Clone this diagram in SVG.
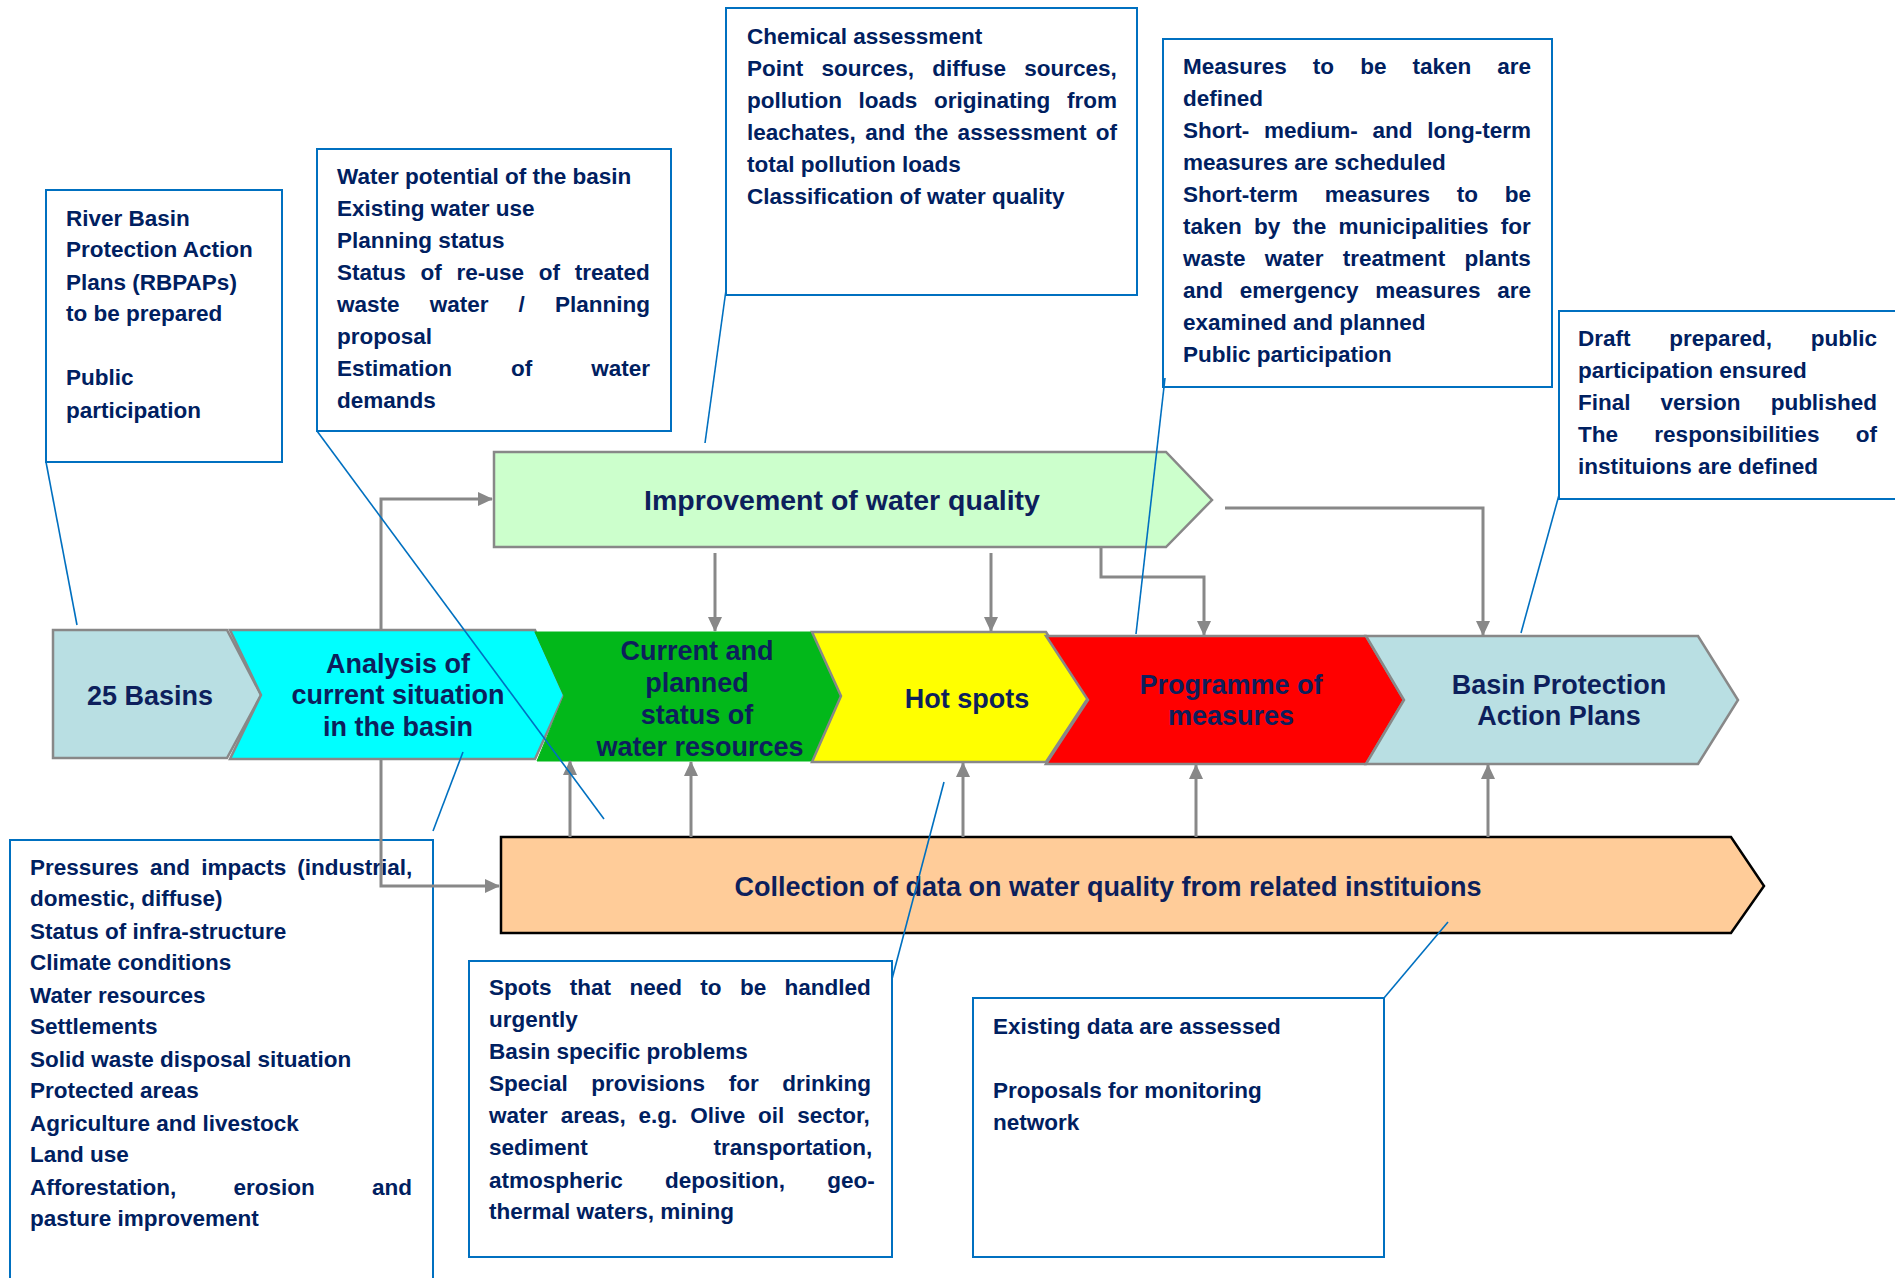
<svg xmlns="http://www.w3.org/2000/svg" width="1895" height="1278" viewBox="0 0 1895 1278">
<style>
.box{fill:#fff;stroke:#0070c0;stroke-width:2}
.bt{font-family:"Liberation Sans",Arial,sans-serif;font-weight:bold;font-size:22.5px;fill:#002060}
.ct{font-family:"Liberation Sans",Arial,sans-serif;font-weight:bold;font-size:27px;fill:#0d1f5c;text-anchor:middle}
.chev{stroke:#888;stroke-width:2.5}
.conn{fill:none;stroke:#888;stroke-width:3}
.call{fill:none;stroke:#0070c0;stroke-width:1.6}
</style>
<defs>
<marker id="ah" markerUnits="userSpaceOnUse" markerWidth="16" markerHeight="14" refX="14" refY="7" orient="auto">
<path d="M0,0 L15,7 L0,14 z" fill="#888"/>
</marker>
</defs>

<g id="box-rbpap">
<rect class="box" x="46" y="190" width="236" height="272"/>
<text class="bt"><tspan x="66" y="226">River Basin</tspan><tspan x="66" y="257">Protection Action</tspan><tspan x="66" y="290">Plans (RBPAPs)</tspan><tspan x="66" y="321">to be prepared</tspan><tspan x="66" y="385">Public</tspan><tspan x="66" y="418">participation</tspan></text>
</g>

<g id="box-water-potential">
<rect class="box" x="317" y="149" width="354" height="282"/>
<text class="bt" x="337" y="184">Water potential of the basin</text>
<text class="bt" x="337" y="216">Existing water use</text>
<text class="bt" x="337" y="248">Planning status</text>
<text class="bt" x="337" y="280" style="word-spacing:8.5px">Status of re-use of treated</text>
<text class="bt" x="337" y="312" style="word-spacing:23.9px">waste water / Planning</text>
<text class="bt" x="337" y="344">proposal</text>
<text class="bt" x="337" y="376" style="word-spacing:52.7px">Estimation of water</text>
<text class="bt" x="337" y="408">demands</text>
</g>

<g id="box-chemical">
<rect class="box" x="726" y="8" width="411" height="287"/>
<text class="bt" x="747" y="44">Chemical assessment</text>
<text class="bt" x="747" y="76" style="word-spacing:12px">Point sources, diffuse sources,</text>
<text class="bt" x="747" y="108" style="word-spacing:10.4px">pollution loads originating from</text>
<text class="bt" x="747" y="140" style="word-spacing:3.1px">leachates, and the assessment of</text>
<text class="bt" x="747" y="172">total pollution loads</text>
<text class="bt" x="747" y="204">Classification of water quality</text>
</g>

<g id="box-measures">
<rect class="box" x="1163" y="39" width="389" height="348"/>
<text class="bt" x="1183" y="74" style="word-spacing:19.8px">Measures to be taken are</text>
<text class="bt" x="1183" y="106">defined</text>
<text class="bt" x="1183" y="138" style="word-spacing:8.5px">Short- medium- and long-term</text>
<text class="bt" x="1183" y="170">measures are scheduled</text>
<text class="bt" x="1183" y="202" style="word-spacing:20.6px">Short-term measures to be</text>
<text class="bt" x="1183" y="234" style="word-spacing:6px">taken by the municipalities for</text>
<text class="bt" x="1183" y="266" style="word-spacing:13px">waste water treatment plants</text>
<text class="bt" x="1183" y="298" style="word-spacing:10.5px">and emergency measures are</text>
<text class="bt" x="1183" y="330">examined and planned</text>
<text class="bt" x="1183" y="362">Public participation</text>
</g>

<g id="box-draft">
<rect class="box" x="1559" y="311" width="345" height="188"/>
<text class="bt" x="1578" y="346" style="word-spacing:32.6px">Draft prepared, public</text>
<text class="bt" x="1578" y="378">participation ensured</text>
<text class="bt" x="1578" y="410" style="word-spacing:23.8px">Final version published</text>
<text class="bt" x="1578" y="442" style="word-spacing:30.1px">The responsibilities of</text>
<text class="bt" x="1578" y="474">instituions are defined</text>
</g>

<g id="box-pressures">
<rect class="box" x="10" y="840" width="423" height="460" fill="none"/>
<text class="bt" x="30" y="875" style="word-spacing:4.9px">Pressures and impacts (industrial,</text>
<text class="bt" x="30" y="906">domestic, diffuse)</text>
<text class="bt" x="30" y="939">Status of infra-structure</text>
<text class="bt" x="30" y="970">Climate conditions</text>
<text class="bt" x="30" y="1003">Water resources</text>
<text class="bt" x="30" y="1034">Settlements</text>
<text class="bt" x="30" y="1067">Solid waste disposal situation</text>
<text class="bt" x="30" y="1098">Protected areas</text>
<text class="bt" x="30" y="1131">Agriculture and livestock</text>
<text class="bt" x="30" y="1162">Land use</text>
<text class="bt" x="30" y="1195" style="word-spacing:51px">Afforestation, erosion and</text>
<text class="bt" x="30" y="1226">pasture improvement</text>
</g>

<g id="box-spots">
<rect class="box" x="469" y="961" width="423" height="296"/>
<text class="bt" x="489" y="995" style="word-spacing:12.1px">Spots that need to be handled</text>
<text class="bt" x="489" y="1027">urgently</text>
<text class="bt" x="489" y="1059">Basin specific problems</text>
<text class="bt" x="489" y="1091" style="word-spacing:17.3px">Special provisions for drinking</text>
<text class="bt" x="489" y="1123" style="word-spacing:6.6px">water areas, e.g. Olive oil sector,</text>
<text class="bt" x="489" y="1155" style="word-spacing:119.5px">sediment transportation,</text>
<text class="bt" x="489" y="1188" style="word-spacing:36px">atmospheric deposition, geo-</text>
<text class="bt" x="489" y="1219">thermal waters, mining</text>
</g>

<g id="box-existing">
<rect class="box" x="973" y="998" width="411" height="259"/>
<text class="bt" x="993" y="1034">Existing data are assessed</text>
<text class="bt" x="993" y="1098">Proposals for monitoring</text>
<text class="bt" x="993" y="1130">network</text>
</g>

<g id="node-basins">
<polygon class="chev" fill="#b9dfe3" points="53,630 227,630 261,695 227,758 53,758"/>
<text class="ct" x="150" y="705">25 Basins</text>
</g>
<g id="node-analysis">
<polygon class="chev" fill="#00ffff" points="230,630 535,630 564,695 535,759 230,759 261,695"/>
<text class="ct"><tspan x="398" y="673">Analysis of</tspan><tspan x="398" y="704">current situation</tspan><tspan x="398" y="736">in the basin</tspan></text>
</g>
<g id="node-current">
<polygon fill="#02b81a" stroke="#02b81a" stroke-width="1" points="535,632 812,632 841,696 812,761 537,761 564,696"/>
<text class="ct"><tspan x="697" y="660">Current and</tspan><tspan x="697" y="692">planned</tspan><tspan x="697" y="724">status of</tspan><tspan x="700" y="756">water resources</tspan></text>
</g>
<g id="node-hotspots">
<polygon class="chev" fill="#ffff00" points="812,632 1046,632 1088,698 1046,762 812,762 841,696"/>
<text class="ct" x="967" y="708">Hot spots</text>
</g>
<g id="node-programme">
<polygon class="chev" fill="#ff0000" points="1046,636 1366,636 1404,700 1366,764 1046,764 1088,700"/>
<text class="ct"><tspan x="1231" y="694">Programme of</tspan><tspan x="1231" y="725">measures</tspan></text>
</g>
<g id="node-bpap">
<polygon class="chev" fill="#b9dfe3" points="1366,636 1698,636 1738,700 1698,764 1366,764 1404,700"/>
<text class="ct"><tspan x="1559" y="694">Basin Protection</tspan><tspan x="1559" y="725">Action Plans</tspan></text>
</g>
<g id="node-improvement">
<polygon class="chev" fill="#ccffcc" points="494,452 1166,452 1212,500 1166,547 494,547"/>
<text class="ct" x="842" y="510" style="font-size:28.5px">Improvement of water quality</text>
</g>
<g id="node-collection">
<polygon fill="#ffcc99" stroke="#000" stroke-width="2.5" points="501,837 1731,837 1764,886 1731,933 501,933"/>
<text class="ct" x="1108" y="896">Collection of data on water quality from related instituions</text>
</g>

<g id="connectors">
<path class="conn" d="M381,630 V499 H492" marker-end="url(#ah)"/>
<path class="conn" d="M381,759 V886 H499" marker-end="url(#ah)"/>
<path class="conn" d="M715,553 V631" marker-end="url(#ah)"/>
<path class="conn" d="M991,553 V631" marker-end="url(#ah)"/>
<path class="conn" d="M1101,547 V577 H1204 V635" marker-end="url(#ah)"/>
<path class="conn" d="M1225,508 H1483 V635" marker-end="url(#ah)"/>
<path class="conn" d="M570,837 V761" marker-end="url(#ah)"/>
<path class="conn" d="M691,837 V762" marker-end="url(#ah)"/>
<path class="conn" d="M963,837 V763" marker-end="url(#ah)"/>
<path class="conn" d="M1196,837 V765" marker-end="url(#ah)"/>
<path class="conn" d="M1488,837 V765" marker-end="url(#ah)"/>
</g>

<g id="callouts">
<line class="call" x1="46" y1="462" x2="77" y2="625"/>
<line class="call" x1="317" y1="431" x2="604" y2="819"/>
<line class="call" x1="726" y1="290" x2="705" y2="443"/>
<line class="call" x1="1165" y1="378" x2="1136" y2="634"/>
<line class="call" x1="1559" y1="495" x2="1521" y2="633"/>
<line class="call" x1="433" y1="831" x2="463" y2="752"/>
<line class="call" x1="892" y1="979" x2="944" y2="782"/>
<line class="call" x1="1384" y1="998" x2="1448" y2="922"/>
</g>
</svg>
